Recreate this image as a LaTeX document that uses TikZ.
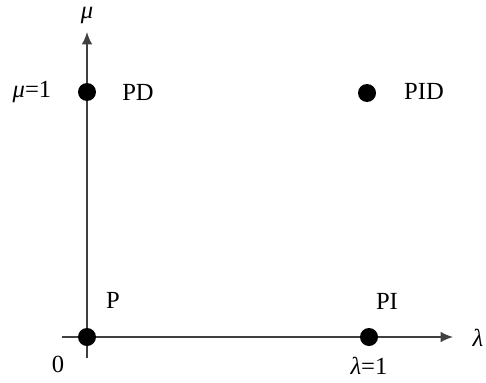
\documentclass[tikz,border=0pt]{standalone}
\usepackage{fontspec}
\setmainfont{Liberation Serif}
\usetikzlibrary{arrows.meta}

\begin{document}
\begin{tikzpicture}[x=0.02cm,y=-0.02cm,font=\fontsize{14}{16}\selectfont,
  axis/.style={draw=black!75,line width=0.9pt,-{Latex[length=7pt,width=6pt]}},
  dot/.style={circle,fill=black,inner sep=0pt,minimum size=0.36cm}]
\useasboundingbox (0,0) rectangle (486,382);
% axes
\coordinate (xs) at (62,337);
\coordinate (xe) at (453,337);
\coordinate (ys) at (87,358);
\coordinate (ye) at (87,32);
\draw[axis] (xs) -- (xe);
\draw[axis] (ys) -- (ye);
% controllers
\node[dot] (p) at (87,337) {};
\node[dot] (pi) at (369,337) {};
\node[dot] (pd) at (87,92) {};
\node[dot] (pid) at (367,93) {};
\node (lp) at (113,300) {P};
\node (lpi) at (387,301) {PI};
\node (lpd) at (138,92) {PD};
\node (lpid) at (424,91) {PID};
% axis labels
\node[inner sep=0pt] (mu) at (87,15) {\textit{μ}};
\node (mu1) at (32,92) {\textit{μ}=1};
\node (zero) at (58,364) {0};
\node (la1) at (369,366) {\textit{λ}=1};
\node (la) at (478,338) {\textit{λ}};
\end{tikzpicture}
\end{document}
